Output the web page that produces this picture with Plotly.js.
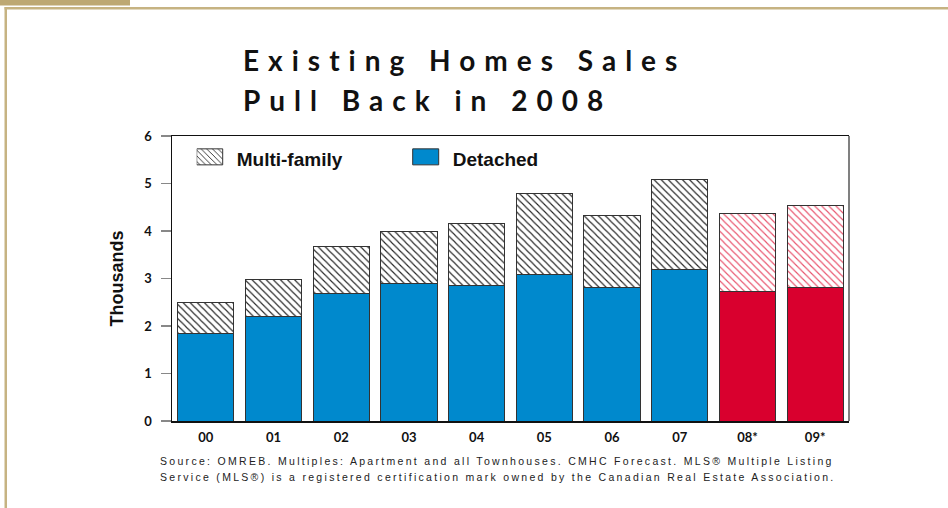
<!DOCTYPE html>
<html>
<head>
<meta charset="utf-8">
<script src="https://cdn.plot.ly/plotly-3.0.1.min.js"></script>
<style>
  html, body { margin: 0; padding: 0; background: #ffffff; }
  #chart { width: 948px; height: 508px; }
  .gtitle { letter-spacing: 9px; }
  .annotation-text { letter-spacing: 2.3px; }
</style>
</head>
<body>
<div id="chart"></div>
<script>
// ---- data (thousands of sales) ----
const years = ['00', '01', '02', '03', '04', '05', '06', '07', '08*', '09*'];
const detached = [1.84, 2.20, 2.68, 2.89, 2.86, 3.08, 2.82, 3.20, 2.72, 2.82];
const multiFamily = [0.65, 0.78, 1.00, 1.11, 1.30, 1.70, 1.51, 1.89, 1.65, 1.72];
const forecastFrom = 8; // 08* and 09* are CMHC forecasts
const seriesNames = ['Detached', 'Multi-family'];
const yTicks = [0, 1, 2, 3, 4, 5, 6];

// ---- style ----
const BLUE = '#0089cd';
const RED = '#d9002e';
const HATCH_RED = '#e8506a';
const OUTLINE = '#333333';
const TAN = '#bda873';

const W = 948, H = 508;
const M = { l: 172, r: 99, t: 136, b: 87 };
const pw = W - M.l - M.r, ph = H - M.t - M.b;
const px = p => (p - M.l) / pw;
const py = p => (H - M.b - p) / ph;

const actualX = years.slice(0, forecastFrom);
const fcX = years.slice(forecastFrom);

const traces = [
  {
    type: 'bar', name: seriesNames[0], x: actualX, y: detached.slice(0, forecastFrom),
    marker: { color: BLUE, line: { color: OUTLINE, width: 1 } },
    hoverinfo: 'skip'
  },
  {
    type: 'bar', name: seriesNames[0] + ' (forecast)', x: fcX, y: detached.slice(forecastFrom),
    marker: { color: RED, line: { color: OUTLINE, width: 1 } },
    showlegend: false, hoverinfo: 'skip'
  },
  {
    type: 'bar', name: seriesNames[1], x: actualX, y: multiFamily.slice(0, forecastFrom),
    marker: {
      color: '#ffffff', line: { color: OUTLINE, width: 1 },
      pattern: { shape: '\\', fgcolor: '#222222', bgcolor: '#ffffff', size: 5, solidity: 0.22 }
    },
    hoverinfo: 'skip'
  },
  {
    type: 'bar', name: seriesNames[1] + ' (forecast)', x: fcX, y: multiFamily.slice(forecastFrom),
    marker: {
      color: '#ffffff', line: { color: OUTLINE, width: 1 },
      pattern: { shape: '\\', fgcolor: HATCH_RED, bgcolor: '#ffffff', size: 5, solidity: 0.22 }
    },
    showlegend: false, hoverinfo: 'skip'
  }
];

const boldTick = { family: 'Lato, "DejaVu Sans", sans-serif', size: 13, color: '#111111', weight: 'bold' };

const layout = {
  width: W, height: H,
  margin: M,
  paper_bgcolor: '#ffffff', plot_bgcolor: '#ffffff',
  barmode: 'stack', bargap: 0.17,
  showlegend: true,
  title: {
    text: 'Existing Homes Sales<br>Pull Back in 2008',
    x: 243 / W, xanchor: 'left', xref: 'container',
    y: 1 - 71 / H, yanchor: 'top', yref: 'container',
    font: { family: 'Lato, "DejaVu Sans", sans-serif', size: 28, color: '#111111', weight: 'bold' }
  },
  legend: {
    orientation: 'h', traceorder: 'reversed',
    x: px(196.7), xanchor: 'left', y: py(140), yanchor: 'top',
    font: { family: '"Liberation Sans", Arial, sans-serif', size: 19, color: '#111111', weight: 'bold' },
    entrywidth: 171, entrywidthmode: 'pixels',
    bgcolor: 'rgba(0,0,0,0)', borderwidth: 0
  },
  xaxis: {
    type: 'category', categoryorder: 'array', categoryarray: years,
    showline: true, linecolor: '#111111', linewidth: 1.5, mirror: true,
    ticks: '', showgrid: false, zeroline: false,
    tickfont: boldTick, ticklabelstandoff: 4, fixedrange: true
  },
  yaxis: {
    range: [0, 6], tickvals: yTicks, ticktext: yTicks.map(String),
    showline: true, linecolor: '#111111', linewidth: 1.5,
    ticks: 'outside', ticklen: 10, tickcolor: '#888888', tickwidth: 1.5,
    showgrid: false, zeroline: false,
    tickfont: boldTick, ticklabelstandoff: 6, fixedrange: true,
    title: { text: 'Thousands', standoff: 16,
      font: { family: '"Liberation Sans", Arial, sans-serif', size: 18, color: '#111111', weight: 'bold' } }
  },
  shapes: [
    // right border of the plot box (gray)
    { type: 'line', xref: 'paper', yref: 'paper', x0: 1, x1: 1, y0: 0, y1: 1,
      line: { color: '#808080', width: 2 } },
    // page decoration: tan tab and frame
    { type: 'rect', xref: 'paper', yref: 'paper', x0: px(0), x1: px(130), y0: py(0), y1: py(5.5),
      fillcolor: TAN, line: { width: 0 }, layer: 'below' },
    { type: 'rect', xref: 'paper', yref: 'paper', x0: px(4.5), x1: px(948), y0: py(7), y1: py(9.5),
      fillcolor: '#c6b382', line: { width: 0 }, layer: 'below' },
    { type: 'rect', xref: 'paper', yref: 'paper', x0: px(4.5), x1: px(7), y0: py(7), y1: py(508),
      fillcolor: '#c6b382', line: { width: 0 }, layer: 'below' }
  ],
  annotations: [
    {
      xref: 'paper', yref: 'paper', x: px(158), y: py(453), xanchor: 'left', yanchor: 'top',
      align: 'left', showarrow: false,
      text: 'Source: OMREB. Multiples: Apartment and all Townhouses. CMHC Forecast. MLS® Multiple Listing<br>Service (MLS®) is a registered certification mark owned by the Canadian Real Estate Association.',
      font: { family: '"Liberation Sans", Arial, sans-serif', size: 10.5, color: '#222222' }
    }
  ]
};

Plotly.newPlot('chart', traces, layout, { staticPlot: true, displayModeBar: false }).then(() => {
  // larger legend swatches, like the original
  document.querySelectorAll('.legend .legendpoints path').forEach(p => {
    p.setAttribute('d', 'M6,6H-20V-10H6Z');
  });
  // wider line spacing for the two-line title
  const lines = document.querySelectorAll('.gtitle tspan.line');
  if (lines.length > 1) lines[1].setAttribute('dy', '40px');
  // slightly wider line spacing in the source note
  const noteLines = document.querySelectorAll('.annotation-text tspan.line');
  if (noteLines.length > 1) noteLines[1].setAttribute('dy', '16px');
});
</script>
</body>
</html>
